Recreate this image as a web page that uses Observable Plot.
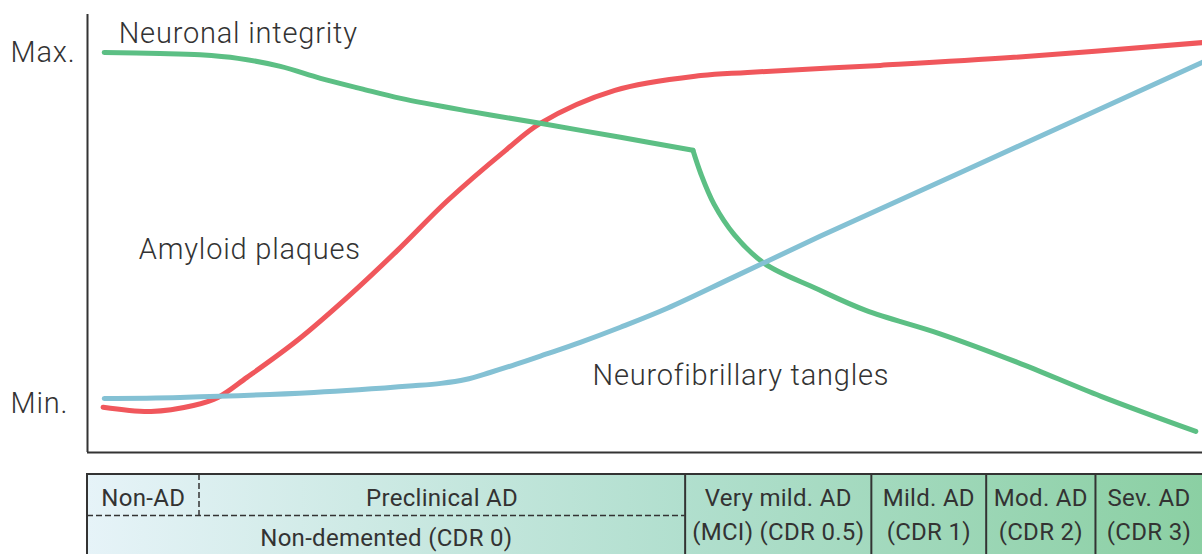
<!DOCTYPE html>
<html>
<head>
<meta charset="utf-8">
<script src="https://cdn.jsdelivr.net/npm/d3@7"></script>
<script src="https://cdn.jsdelivr.net/npm/@observablehq/plot@0.6"></script>
<style>
  html, body { margin: 0; padding: 0; background: #fff; overflow: hidden; }
  #chart svg { display: block; }
</style>
</head>
<body>
<div id="chart"></div>
<script>
// ---- Data (x: disease progression 0–100, y: level 0 = Min, 100 = Max) ----
const amyloidPlaques = [
  {x: 1.4, y: -1.1}, {x: 5.7, y: -2.3}, {x: 9.5, y: -0.6}, {x: 11.7, y: 1.7},
  {x: 14.3, y: 7.4}, {x: 18.8, y: 17.9}, {x: 23.3, y: 30.2}, {x: 27.8, y: 43.6},
  {x: 32.3, y: 57.8}, {x: 37.5, y: 72.1}, {x: 40.6, y: 79.8}, {x: 47.3, y: 89.2},
  {x: 55.0, y: 93.4}, {x: 59.2, y: 94.3}, {x: 71.1, y: 96.3}, {x: 83.1, y: 98.6},
  {x: 100, y: 102.8}
];
const neurofibrillaryTangles = [
  {x: 1.5, y: 1.4}, {x: 8.3, y: 1.7}, {x: 20.3, y: 3.1}, {x: 29.2, y: 5.0},
  {x: 31.7, y: 5.7}, {x: 33.9, y: 6.8}, {x: 36.1, y: 8.8}, {x: 38.4, y: 11.1},
  {x: 41.1, y: 14.0}, {x: 44.2, y: 17.4}, {x: 47.8, y: 21.7}, {x: 52.0, y: 27.1},
  {x: 57.9, y: 35.9}, {x: 65.7, y: 47.6}, {x: 78.3, y: 65.8}, {x: 100, y: 97.2}
];
const neuronalIntegrityPreclinical = [
  {x: 1.5, y: 100}, {x: 6.5, y: 99.7}, {x: 10.1, y: 99.3}, {x: 13.5, y: 98.3},
  {x: 17.3, y: 96.0}, {x: 20.9, y: 92.6}, {x: 24.5, y: 89.7}, {x: 28.1, y: 86.9},
  {x: 34.3, y: 83.2}, {x: 40.6, y: 79.8}, {x: 47.8, y: 75.8}, {x: 54.3, y: 72.1}
];
const neuronalIntegrityClinical = [
  {x: 54.3, y: 72.1}, {x: 55.0, y: 65.5}, {x: 56.2, y: 56.7}, {x: 58.0, y: 48.1},
  {x: 60.7, y: 39.9}, {x: 65.3, y: 32.8}, {x: 69.8, y: 26.5}, {x: 76.4, y: 19.9},
  {x: 83.4, y: 11.7}, {x: 90.9, y: 2.0}, {x: 99.4, y: -8.0}
];
const yTickValues = [0, 100];
const yTickLabels = ["Min.", "Max."];
const seriesLabels = [
  {text: "Neuronal integrity", x: 2.8, y: 105.4},
  {text: "Amyloid plaques", x: 4.6, y: 43.9},
  {text: "Neurofibrillary tangles", x: 45.3, y: 8.0}
];
const stageBounds = [0, 10, 53.6, 70.3, 80.6, 90.4, 100];
const stageCells = [
  {label: "Non-AD", x1: 0, x2: 10, row: 0.5},
  {label: "Preclinical AD", x1: 10, x2: 53.6, row: 0.5},
  {label: "Non-demented (CDR 0)", x1: 0, x2: 53.6, row: 1.47},
  {label: "Very mild. AD\n(MCI) (CDR 0.5)", x1: 53.6, x2: 70.3, row: 0.92},
  {label: "Mild. AD\n(CDR 1)", x1: 70.3, x2: 80.6, row: 0.92},
  {label: "Mod. AD\n(CDR 2)", x1: 80.6, x2: 90.4, row: 0.92},
  {label: "Sev. AD\n(CDR 3)", x1: 90.4, x2: 100, row: 0.92}
];

// ---- Styles ----
const FONT = "Roboto, 'DejaVu Sans', sans-serif";
const INK = "#333333";
const RED = "#f0575c", GREEN = "#5cbf84", BLUE = "#84c1d4";

const yTicks = yTickValues.map((v, i) => ({y: v, label: yTickLabels[i]}));

const chart = Plot.plot({
  width: 1202, height: 460,
  marginLeft: 87, marginRight: 0, marginTop: 14, marginBottom: 8,
  x: {domain: [0, 100], axis: null},
  y: {domain: [-14, 110.8], axis: null},
  style: {fontFamily: FONT, background: "white", color: INK},
  marks: [
    Plot.ruleX([0], {stroke: INK, strokeWidth: 2}),
    Plot.ruleY([-14], {stroke: INK, strokeWidth: 2}),
    Plot.line(amyloidPlaques, {x: "x", y: "y", stroke: RED, strokeWidth: 5, curve: "catmull-rom", strokeLinecap: "round"}),
    Plot.line(neuronalIntegrityPreclinical, {x: "x", y: "y", stroke: GREEN, strokeWidth: 5, curve: "catmull-rom", strokeLinecap: "round"}),
    Plot.line(neuronalIntegrityClinical, {x: "x", y: "y", stroke: GREEN, strokeWidth: 5, curve: "catmull-rom", strokeLinecap: "round"}),
    Plot.line(neurofibrillaryTangles, {x: "x", y: "y", stroke: BLUE, strokeWidth: 5, curve: "catmull-rom", strokeLinecap: "round"}),
    Plot.text(seriesLabels, {x: "x", y: "y", text: "text", textAnchor: "start", fontSize: 29, fontWeight: 300, fill: INK}),
    Plot.text(yTicks, {x: () => 0, y: "y", text: "label", textAnchor: "start", dx: -77, fontSize: 29, fontWeight: 300, fill: INK})
  ]
});
d3.select(chart).selectAll("text").style("letter-spacing", "0.8px");

const inner = stageBounds.slice(2, -1);
const table = Plot.plot({
  width: 1202, height: 94,
  marginLeft: 87, marginRight: 0, marginTop: 14, marginBottom: 0,
  x: {domain: [0, 100], axis: null},
  y: {domain: [0, 80 / 41], range: [14, 94], axis: null},
  style: {fontFamily: FONT, background: "white", color: INK},
  marks: [
    Plot.rect([{x1: stageBounds[0], x2: stageBounds[stageBounds.length - 1] + 1, y1: 0, y2: 2.2}],
      {x1: "x1", x2: "x2", y1: "y1", y2: "y2", fill: "url(#stageGrad)", stroke: INK, strokeWidth: 2}),
    Plot.ruleX(inner, {y1: 0, y2: 2.2, stroke: INK, strokeWidth: 2}),
    Plot.ruleX([stageBounds[1]], {y1: 0, y2: 1, stroke: INK, strokeWidth: 1.5, strokeDasharray: "6,3"}),
    Plot.ruleY([1], {x1: stageBounds[0], x2: stageBounds[2], stroke: INK, strokeWidth: 1.5, strokeDasharray: "6,3"}),
    Plot.text(stageCells, {x: d => (d.x1 + d.x2) / 2, y: "row", text: "label", fontSize: 24, fontWeight: 400, lineHeight: 1.4, fill: INK})
  ]
});
d3.select(table).selectAll("text").style("letter-spacing", "0.3px");

const defs = d3.select(table).insert("defs", ":first-child");
const grad = defs.append("linearGradient").attr("id", "stageGrad")
  .attr("x1", "0").attr("x2", "1").attr("y1", "0").attr("y2", "0");
grad.append("stop").attr("offset", "0").attr("stop-color", "#e6f3f8");
grad.append("stop").attr("offset", "0.53").attr("stop-color", "#b1dfce");
grad.append("stop").attr("offset", "1").attr("stop-color", "#8acfa2");

const root = document.getElementById("chart");
root.appendChild(chart);
root.appendChild(table);
</script>
</body>
</html>
